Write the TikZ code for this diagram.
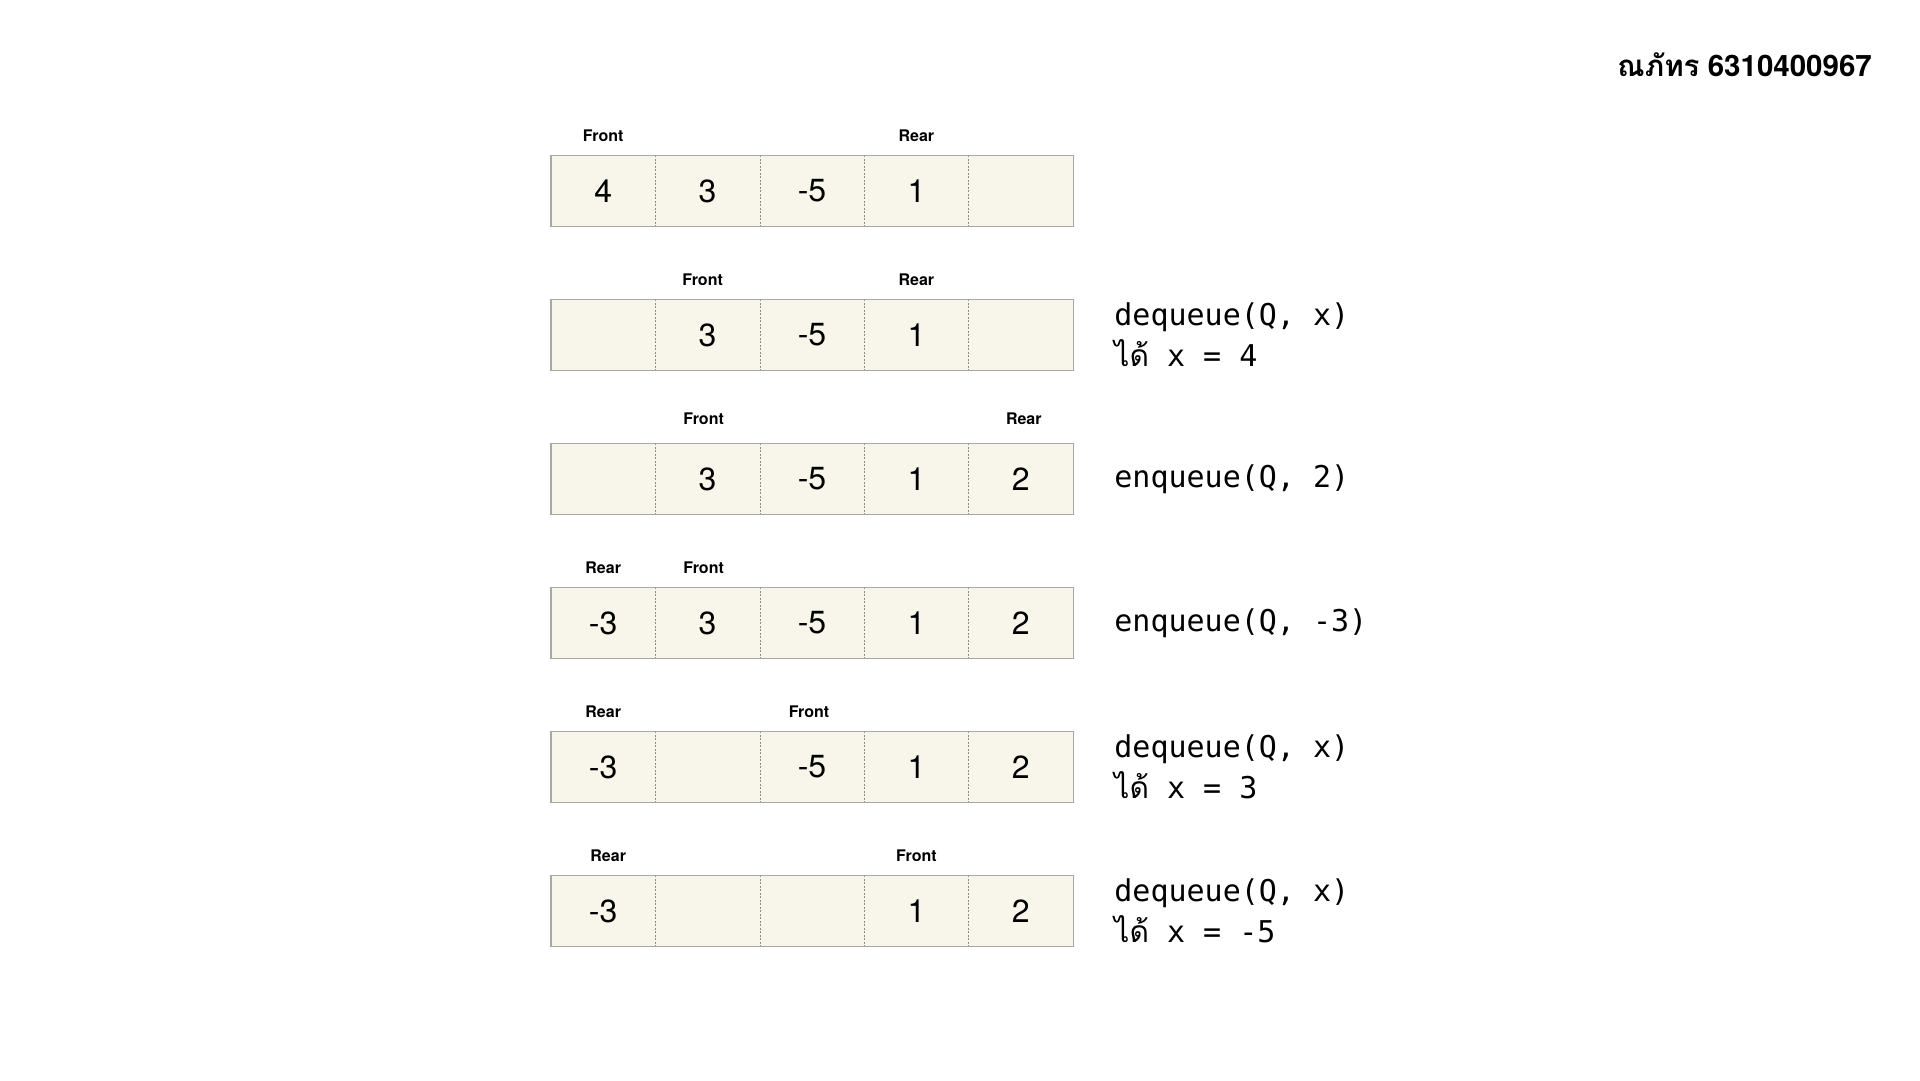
\documentclass[tikz,border=0pt]{standalone}
\usepackage{fontspec}
\setmainfont{TeX Gyre Heros}
\setsansfont{TeX Gyre Heros}
\setmonofont{DejaVu Sans Mono}
\newfontfamily\thaifont[Script=Thai]{Loma}
\usetikzlibrary{positioning}
\definecolor{cream}{HTML}{F8F6EB}
\definecolor{rimgray}{HTML}{A8A8A8}
\definecolor{dotgray}{HTML}{8C8C8C}
% one queue row: name, y, five cell values
\newcommand{\qrow}[7]{%
  \node[cell] (#1c1) at (603.2,#2) {#3};
  \node[cell] (#1c2) at (707.6,#2) {#4};
  \node[cell] (#1c3) at (812.0,#2) {#5};
  \node[cell] (#1c4) at (916.4,#2) {#6};
  \node[cell] (#1c5) at (1020.8,#2) {#7};
  \foreach \i in {1,...,4}
    \draw[sep] (#1c\i.north east) -- (#1c\i.south east);
  \draw[rim] (#1c1.north west) rectangle (#1c5.south east);
}

\begin{document}
\begin{tikzpicture}[x=1pt,y=-1pt]
      \tikzstyle{cell}=[rectangle,fill=cream,draw=none,inner sep=0,%
        minimum width=104.4pt,minimum height=71pt,%
        font=\fontsize{32}{36}\selectfont\sffamily]
      \tikzstyle{rim}=[draw=rimgray,line width=1.4pt]
      \tikzstyle{sep}=[draw=dotgray,line width=0.7pt,dash pattern=on 2pt off 1.5pt]
      \tikzstyle{tag}=[inner sep=0,font=\fontsize{16}{18}\selectfont\bfseries\sffamily]
      \tikzstyle{op}=[anchor=west,align=left,inner sep=0,%
        font=\fontsize{30}{41}\selectfont\ttfamily]

      \useasboundingbox (0,0) rectangle (1920,1080);

      \node[anchor=east,inner sep=0] (title) at (1872,65)
        {\fontsize{29.5}{32}\selectfont\bfseries{\thaifont ณภัทร} 6310400967};

      \qrow{q1}{191}{4}{3}{-5}{1}{}
      \node[tag, above=13pt of q1c1] (f1) {Front};
      \node[tag, above=13pt of q1c4] (r1) {Rear};

      \qrow{q2}{335}{}{3}{-5}{1}{}
      \node[tag, above=13pt of q2c2, xshift=-5pt] (f2) {Front};
      \node[tag, above=13pt of q2c4] (r2) {Rear};
      \node[op, right=41pt of q2c5] (op2) {dequeue(Q, x)\\{\thaifont ได้} x = 4};

      \qrow{q3}{479}{}{3}{-5}{1}{2}
      \node[tag, above=18pt of q3c2, xshift=-4pt] (f3) {Front};
      \node[tag, above=18pt of q3c5, xshift=3pt] (r3) {Rear};
      \node[op, right=41pt of q3c5] (op3) {enqueue(Q, 2)};

      \qrow{q4}{623}{-3}{3}{-5}{1}{2}
      \node[tag, above=13pt of q4c1] (r4) {Rear};
      \node[tag, above=13pt of q4c2, xshift=-4pt] (f4) {Front};
      \node[op, right=41pt of q4c5] (op4) {enqueue(Q, -3)};

      \qrow{q5}{767}{-3}{}{-5}{1}{2}
      \node[tag, above=13pt of q5c1] (r5) {Rear};
      \node[tag, above=13pt of q5c3, xshift=-3pt] (f5) {Front};
      \node[op, right=41pt of q5c5] (op5) {dequeue(Q, x)\\{\thaifont ได้} x = 3};

      \qrow{q6}{911}{-3}{}{}{1}{2}
      \node[tag, above=13pt of q6c1, xshift=5pt] (r6) {Rear};
      \node[tag, above=13pt of q6c4] (f6) {Front};
      \node[op, right=41pt of q6c5] (op6) {dequeue(Q, x)\\{\thaifont ได้} x = -5};
    \end{tikzpicture}
\end{document}
